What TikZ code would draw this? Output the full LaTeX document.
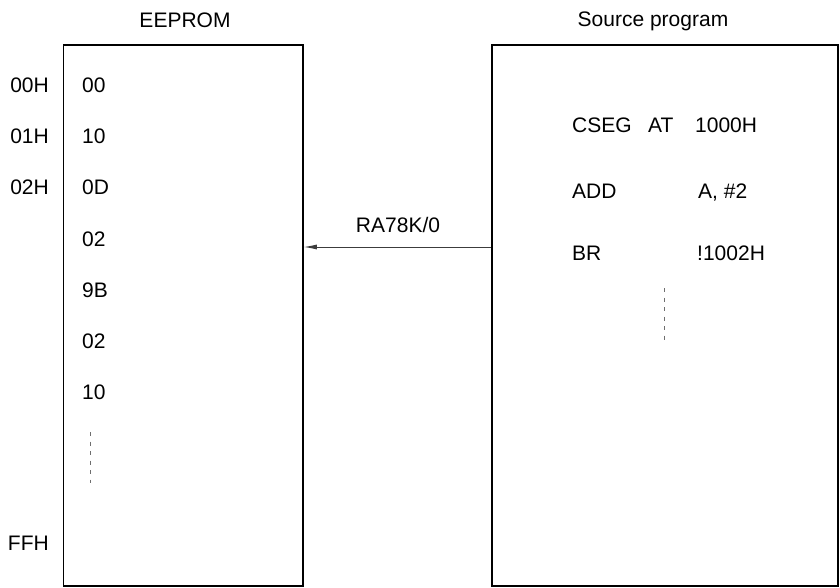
\documentclass[tikz,border=0pt]{standalone}
\usepackage{fontspec}
\setmainfont{Liberation Sans}
\usetikzlibrary{arrows.meta}
\definecolor{linegray}{HTML}{3C3C3C}
\definecolor{dashgray}{HTML}{6E6E6E}

\begin{document}
\begin{tikzpicture}[x=1pt,y=-1pt,
  every node/.style={font=\fontsize{21}{24}\selectfont,inner sep=0pt},
  memval/.style={anchor=base west},
  memaddr/.style={anchor=base east},
  membox/.style={draw,line width=1.5pt,minimum width=#1,minimum height=541pt}]
  \useasboundingbox (0,0) rectangle (840,588);

  % Panel 1: EEPROM contents
  \node[membox=239.5pt] (eeprom) at (183.25,315.5) {};
  \node[anchor=base] (eepromtitle) at (185,28) {EEPROM};
  \node[memaddr] (a00) at (49,93) {00H};
  \node[memaddr] (a01) at (49,144) {01H};
  \node[memaddr] (a02) at (49,195) {02H};
  \node[memaddr] (aff) at (49,550) {FFH};
  \node[memval] (v0) at (82,93) {00};
  \node[memval] (v1) at (82,144) {10};
  \node[memval] (v2) at (82,195) {0D};
  \node[memval] (v3) at (82,246) {02};
  \node[memval] (v4) at (82,297) {9B};
  \node[memval] (v5) at (82,348) {02};
  \node[memval] (v6) at (82,399) {10};
  \draw[dashgray,line width=0.9pt,dash pattern=on 4pt off 5.5pt] (90,432) -- (90,483);

  % Panel 2: Source program
  \node[membox=346pt] (srcbox) at (665,315.5) {};
  \node[anchor=base] (srctitle) at (653,27) {Source program};
  \node[memval] (cseg) at (572,133) {CSEG};
  \node[memval] (at) at (648,133) {AT};
  \node[memval] (org) at (695,133) {1000H};
  \node[memval] (add) at (572,198) {ADD};
  \node[memval] (addop) at (698,198) {A, \#2};
  \node[memval] (br) at (572,260) {BR};
  \node[memval] (brop) at (697,260) {!1002H};
  \draw[dashgray,line width=0.9pt,dash pattern=on 4pt off 5.5pt] (664,288) -- (664,341);

  % Assembler: source -> EEPROM
  \coordinate (asm) at (492,247);
  \draw[linegray,line width=0.9pt,-{Latex[length=13pt,width=5pt]}] (srcbox.west |- asm) -- (eeprom.east |- asm);
  \node[anchor=base] (ralabel) at (398,233) {RA78K/0};
\end{tikzpicture}
\end{document}
